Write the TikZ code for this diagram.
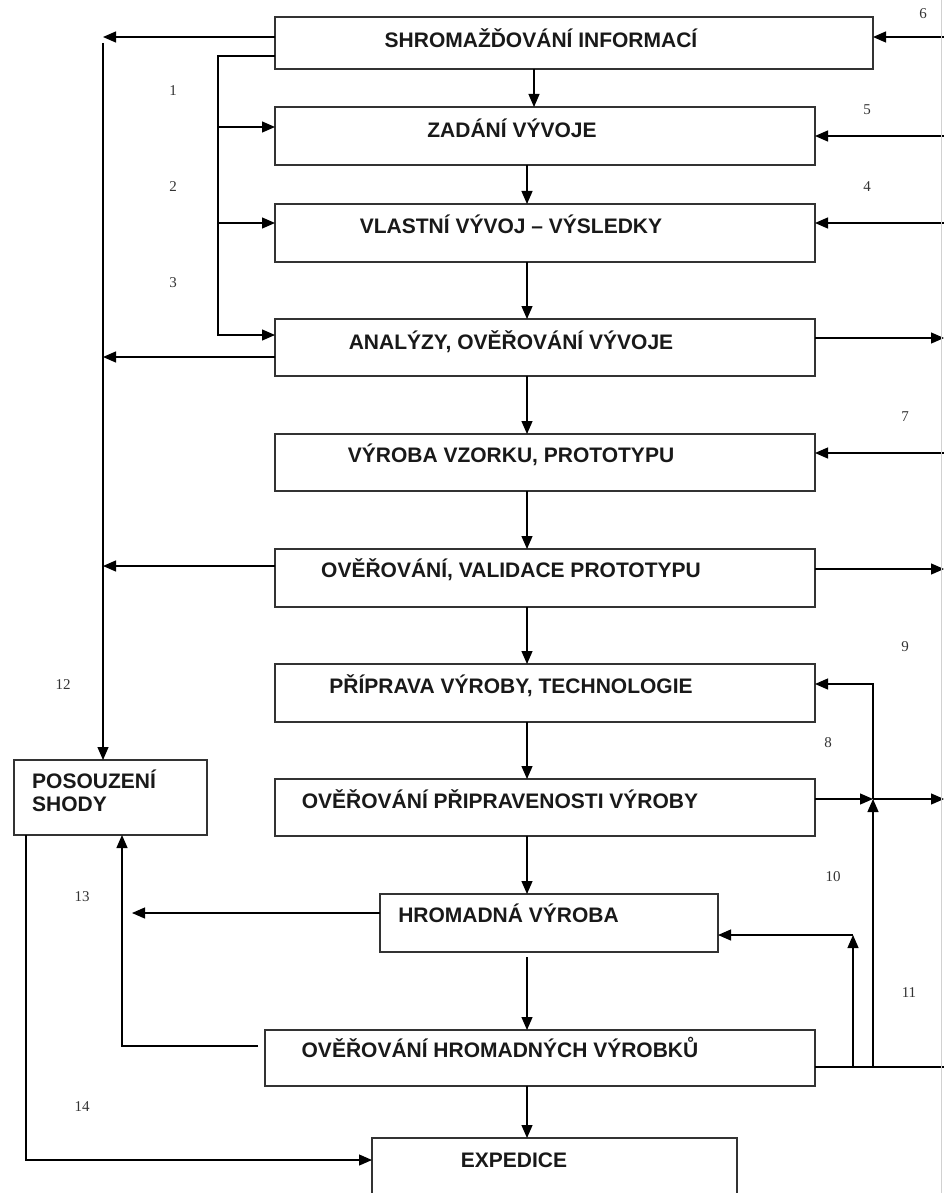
\documentclass[tikz,border=0pt]{standalone}
\usepackage{fontspec}
\setmainfont{Liberation Sans}
\newfontfamily\numfont{Liberation Serif}
\usetikzlibrary{arrows.meta}
\begin{document}
\begin{tikzpicture}[x=1pt,y=-1pt,
  box/.style={draw=black!80, line width=1.5pt, rectangle, inner sep=0pt, outer sep=0pt},
  title/.style={font=\bfseries\fontsize{21}{25}\selectfont, text=black!90, inner sep=0pt, anchor=base},
  num/.style={font=\numfont\fontsize{15}{17}\selectfont, text=black!80, inner sep=0pt},
  arr/.style={line width=1.2pt, -{Triangle[length=13pt,width=11pt]}},
  ln/.style={line width=1.2pt}]
\useasboundingbox (0,0) rectangle (944,1193);
\clip (0,0) rectangle (944,1193);

% process boxes
\node[box, minimum width=598pt, minimum height=52pt] (shrom) at (574,43) {};
\node[box, minimum width=540pt, minimum height=58pt] (zad)   at (545,136) {};
\node[box, minimum width=540pt, minimum height=58pt] (vlast) at (545,233) {};
\node[box, minimum width=540pt, minimum height=57pt] (anal)  at (545,347.5) {};
\node[box, minimum width=540pt, minimum height=57pt] (vyr)   at (545,462.5) {};
\node[box, minimum width=540pt, minimum height=58pt] (over)  at (545,578) {};
\node[box, minimum width=540pt, minimum height=58pt] (prip)  at (545,693) {};
\node[box, minimum width=540pt, minimum height=57pt] (pripr) at (545,807.5) {};
\node[box, minimum width=338pt, minimum height=58pt] (hrom)  at (549,923) {};
\node[box, minimum width=550pt, minimum height=56pt] (hromv) at (540,1058) {};
\node[box, minimum width=365pt, minimum height=58pt] (exp)   at (554.5,1167) {};
\node[box, minimum width=193pt, minimum height=75pt] (pos)   at (110.5,797.5) {};

% box captions
\node[title] (tShrom) at (541,47.5)   {SHROMAŽĎOVÁNÍ INFORMACÍ};
\node[title] (tZad)   at (512,137.5)  {ZADÁNÍ VÝVOJE};
\node[title] (tVlast) at (511,233.5)  {VLASTNÍ VÝVOJ – VÝSLEDKY};
\node[title] (tAnal)  at (511,349.5)  {ANALÝZY, OVĚŘOVÁNÍ VÝVOJE};
\node[title] (tVyr)   at (511,462.5)  {VÝROBA VZORKU, PROTOTYPU};
\node[title] (tOver)  at (511,577.5)  {OVĚŘOVÁNÍ, VALIDACE PROTOTYPU};
\node[title] (tPrip)  at (511,693.5)  {PŘÍPRAVA VÝROBY, TECHNOLOGIE};
\node[title] (tPripr) at (500,808.5)  {OVĚŘOVÁNÍ PŘIPRAVENOSTI VÝROBY};
\node[title] (tHrom)  at (508.5,922.5){HROMADNÁ VÝROBA};
\node[title] (tHromv) at (500,1057.5) {OVĚŘOVÁNÍ HROMADNÝCH VÝROBKŮ};
\node[title] (tExp)   at (514,1167.5) {EXPEDICE};
\node[title, anchor=base west] (tPos1) at (32,788.5) {POSOUZENÍ};
\node[title, anchor=base west] (tPos2) at (32,811.5) {SHODY};

% columns
\coordinate (cA)  at (534,0);
\coordinate (cM)  at (527,0);
\coordinate (cL1) at (103,0);
\coordinate (cL2) at (218,0);
\coordinate (cL3) at (132,0);
\coordinate (cL4) at (122,0);
\coordinate (cL5) at (26,0);
\coordinate (cR1) at (873,0);
\coordinate (cR2) at (853,0);
\coordinate (cE)  at (944,0);
% rows
\foreach \r in {37,43,56,127,136,223,335,338,357,453,566,569,684,799,913,935,1046,1067,1160}
  {\coordinate (r\r) at (0,\r);}

% main flow
\draw[arr] (shrom.south -| cA) -- (zad.north -| cA);
\draw[arr] (zad.south -| cM)   -- (vlast.north -| cM);
\draw[arr] (vlast.south -| cM) -- (anal.north -| cM);
\draw[arr] (anal.south -| cM)  -- (vyr.north -| cM);
\draw[arr] (vyr.south -| cM)   -- (over.north -| cM);
\draw[arr] (over.south -| cM)  -- (prip.north -| cM);
\draw[arr] (prip.south -| cM)  -- (pripr.north -| cM);
\draw[arr] (pripr.south -| cM) -- (hrom.north -| cM);
\draw[arr, shorten <=5pt] (hrom.south -| cM) -- (hromv.north -| cM);
\draw[arr] (hromv.south -| cM) -- (exp.north -| cM);

% left side
\draw[arr] (shrom.west |- r37) -- (cL1 |- r37);
\draw[arr] (cL1 |- r43) -- (pos.north -| cL1);
\draw[arr] (shrom.west |- r56) -| (cL2 |- r335) -- (anal.west |- r335);
\draw[arr] (cL2 |- r127) -- (zad.west |- r127);
\draw[arr] (cL2 |- r223) -- (vlast.west |- r223);
\draw[arr] (anal.west |- r357) -- (cL1 |- r357);
\draw[arr] (over.west |- r566) -- (cL1 |- r566);
\draw[arr] (hrom.west |- r913) -- (cL3 |- r913);
\draw[arr, shorten <=7pt] (hromv.west |- r1046) -| (pos.south -| cL4);
\draw[arr] (pos.south -| cL5) |- (exp.west |- r1160);

% right side
\draw[arr] (cE |- r37)  -- (shrom.east |- r37);
\draw[arr] (cE |- r136) -- (zad.east |- r136);
\draw[arr] (cE |- r223) -- (vlast.east |- r223);
\draw[arr] (anal.east |- r338) -- (cE |- r338);
\draw[arr] (cE |- r453) -- (vyr.east |- r453);
\draw[arr] (over.east |- r569) -- (cE |- r569);
\draw[arr] (pripr.east |- r799) -- (cR1 |- r799);
\draw[arr] (cR1 |- r799) -- (cE |- r799);
\draw[ln]  (hromv.east |- r1067) -- (cE |- r1067);
\draw[arr] (cR1 |- r1067) -- (cR1 |- r799);
\draw[arr] (cR1 |- r799) |- (prip.east |- r684);
\draw[arr] (cR2 |- r1067) -- (cR2 |- r935);
\draw[arr] (cR2 |- r935) -- (hrom.east |- r935);

% edge of the neighbouring frame
\draw[black!18, line width=0.8pt] (941,0) -- (941,1193);

% flow numbers
\node[num] (n1)  at (173,91)   {1};
\node[num] (n2)  at (173,187)  {2};
\node[num] (n3)  at (173,283)  {3};
\node[num] (n4)  at (867,187)  {4};
\node[num] (n5)  at (867,110)  {5};
\node[num] (n6)  at (923,14)   {6};
\node[num] (n7)  at (905,417)  {7};
\node[num] (n8)  at (828,743)  {8};
\node[num] (n9)  at (905,647)  {9};
\node[num] (n10) at (833,877)  {10};
\node[num] (n11) at (909,993)  {11};
\node[num] (n12) at (63,685)   {12};
\node[num] (n13) at (82,897)   {13};
\node[num] (n14) at (82,1107)  {14};
\end{tikzpicture}
\end{document}
